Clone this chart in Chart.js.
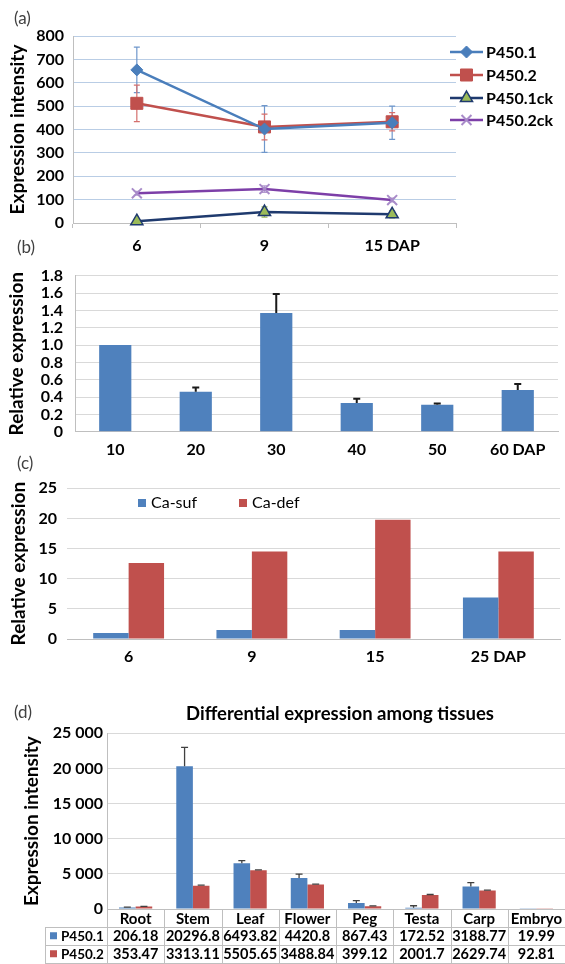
<!DOCTYPE html>
<html><head><meta charset="utf-8">
<script src="https://cdn.jsdelivr.net/npm/chart.js"></script>
<style>
html,body{margin:0;padding:0;background:#fff;}
body{width:565px;height:964px;position:relative;overflow:hidden;}
canvas{position:absolute;left:0;}
.lbl{position:absolute;font:17px Lato, sans-serif;line-height:20px;color:#404040;z-index:5;}
</style></head><body>
<canvas id="ca" width="565" height="254" style="top:0"></canvas>
<canvas id="cb" width="565" height="208" style="top:254px"></canvas>
<canvas id="cc" width="565" height="210" style="top:462px"></canvas>
<canvas id="cd" width="565" height="292" style="top:672px"></canvas>
<div class="lbl" style="left:14px;top:8px">(a)</div>
<div class="lbl" style="left:17px;top:237px">(b)</div>
<div class="lbl" style="left:17px;top:453px">(c)</div>
<div class="lbl" style="left:14px;top:702px">(d)</div>
<script>
// ---------- Panel (a) data ----------
const aCategories = ['6', '9', '15 DAP'];
const aSeriesNames = ['P450.1', 'P450.2', 'P450.1ck', 'P450.2ck'];
const aP4501 = [655, 402, 429];
const aP4501Err = [97, 100, 71];
const aP4502 = [512, 411, 433];
const aP4502Err = [78, 55, 39];
const aP4501ck = [8, 47, 37];
const aP4501ckErr = [0, 22, 15];
const aP4502ck = [127, 145, 98];
const aP4502ckErr = [8, 14, 8];
const aYTicks = [0, 100, 200, 300, 400, 500, 600, 700, 800];
const aYTitle = 'Expression intensity';

// ---------- Panel (b) data ----------
const bCategories = ['10', '20', '30', '40', '50', '60 DAP'];
const bValues = [1.0, 0.46, 1.37, 0.33, 0.31, 0.48];
const bErr = [0, 0.05, 0.22, 0.05, 0.015, 0.07];
const bYTicks = [0, 0.2, 0.4, 0.6, 0.8, 1.0, 1.2, 1.4, 1.6, 1.8];
const bYTickLabels = ['0', '0.2', '0.4', '0.6', '0.8', '1.0', '1.2', '1.4', '1.6', '1.8'];
const bYTitle = 'Relative expression';

// ---------- Panel (c) data ----------
const cCategories = ['6', '9', '15', '25 DAP'];
const cSeriesNames = ['Ca-suf', 'Ca-def'];
const cCaSuf = [1.0, 1.5, 1.5, 6.9];
const cCaDef = [12.6, 14.5, 19.8, 14.5];
const cYTicks = [0, 5, 10, 15, 20, 25];
const cYTitle = 'Relative expression';

// ---------- Panel (d) data ----------
const dTitle = 'Differential expression among tissues';
const dCategories = ['Root', 'Stem', 'Leaf', 'Flower', 'Peg', 'Testa', 'Carp', 'Embryo'];
const dSeriesNames = ['P450.1', 'P450.2'];
const dP4501 = [206.18, 20296.8, 6493.82, 4420.8, 867.43, 172.52, 3188.77, 19.99];
const dP4502 = [353.47, 3313.11, 5505.65, 3488.84, 399.12, 2001.7, 2629.74, 92.81];
const dP4501Err = [60, 2700, 380, 540, 320, 290, 560, 0];
const dP4502Err = [30, 90, 50, 50, 50, 60, 60, 0];
const dYTicks = [0, 5000, 10000, 15000, 20000, 25000];
const dYTickLabels = ['0', '5 000', '10 000', '15 000', '20 000', '25 000'];
const dYTitle = 'Expression intensity';

// ---------- common ----------
const BLUE = '#4F81BD', RED = '#C0504D';
Chart.defaults.font.family = 'Lato, sans-serif';
Chart.defaults.color = '#000';
const tickFont = {size: 16, weight: 'bold'};
const titleFont = {size: 19, weight: 'bold'};

const errorBars = {
  id: 'errorBars',
  draw(chart) {
    const ctx = chart.ctx, y = chart.scales.y;
    chart.data.datasets.forEach((ds, di) => {
      if (!ds.errPlus) return;
      const meta = chart.getDatasetMeta(di);
      ctx.save();
      ctx.strokeStyle = ds.errColor || '#333';
      ctx.lineWidth = ds.errWidth || 1.2;
      meta.data.forEach((el, i) => {
        const v = ds.data[i];
        const p = ds.errPlus[i] || 0;
        const m = ds.errMinus ? (ds.errMinus[i] || 0) : 0;
        if (!p && !m) return;
        const x = el.x;
        const yv = y.getPixelForValue(v);
        const yt = y.getPixelForValue(v + p);
        const yb = y.getPixelForValue(v - m);
        const cap = ds.errCap || 3.5;
        ctx.beginPath();
        ctx.moveTo(x, yt); ctx.lineTo(x, m ? yb : yv);
        if (p) { ctx.moveTo(x - cap, yt); ctx.lineTo(x + cap, yt); }
        if (m) { ctx.moveTo(x - cap, yb); ctx.lineTo(x + cap, yb); }
        ctx.stroke();
      });
      ctx.restore();
    });
  },
  beforeDatasetsDraw(chart, args, opts) { if (opts.behind) this.draw(chart); },
  afterDatasetsDraw(chart, args, opts) { if (!opts.behind) this.draw(chart); }
};

function drawMarker(ctx, style, r, bw, x, y) {
  if (Chart.helpers && Chart.helpers.drawPoint) {
    Chart.helpers.drawPoint(ctx, {pointStyle: style, radius: r, rotation: 0, borderWidth: bw}, x, y);
  } else {
    ctx.beginPath(); ctx.arc(x, y, r, 0, Math.PI * 2); ctx.fill(); ctx.stroke();
  }
}

const lineLegend = {
  id: 'lineLegend',
  afterDraw(chart, args, opts) {
    const ctx = chart.ctx;
    ctx.save();
    chart.data.datasets.forEach((ds, i) => {
      const y = opts.ys[i];
      ctx.strokeStyle = ds.borderColor; ctx.lineWidth = ds.borderWidth;
      ctx.beginPath(); ctx.moveTo(opts.x0, y); ctx.lineTo(opts.x1, y); ctx.stroke();
      ctx.fillStyle = ds.pointBackgroundColor; ctx.strokeStyle = ds.pointBorderColor;
      ctx.lineWidth = ds.pointBorderWidth;
      drawMarker(ctx, ds.pointStyle, ds.pointRadius, ds.pointBorderWidth, (opts.x0 + opts.x1) / 2, y);
      ctx.fillStyle = '#000'; ctx.font = 'bold 16px Lato, sans-serif';
      ctx.textAlign = 'left'; ctx.textBaseline = 'middle';
      ctx.fillText(ds.label, opts.x1 + 3, y + 1);
    });
    ctx.restore();
  }
};

const boxLegend = {
  id: 'boxLegend',
  afterDraw(chart, args, opts) {
    const ctx = chart.ctx;
    ctx.save();
    chart.data.datasets.forEach((ds, i) => {
      const x = opts.xs[i];
      ctx.fillStyle = ds.backgroundColor;
      ctx.fillRect(x, opts.y - 4, 8, 8);
      ctx.fillStyle = '#000'; ctx.font = '16px Lato, sans-serif';
      ctx.textAlign = 'left'; ctx.textBaseline = 'middle';
      ctx.fillText(ds.label, x + 13, opts.y);
    });
    ctx.restore();
  }
};

const panelTitle = {
  id: 'panelTitle',
  afterDraw(chart, args, opts) {
    const ctx = chart.ctx, ca = chart.chartArea;
    ctx.save();
    ctx.fillStyle = '#000'; ctx.font = 'bold 18.5px Lato, sans-serif';
    ctx.textAlign = 'center'; ctx.textBaseline = 'middle';
    ctx.fillText(opts.text, (ca.left + ca.right) / 2 + 4, opts.y);
    ctx.restore();
  }
};

const dataTable = {
  id: 'dataTable',
  afterDraw(chart) {
    const ctx = chart.ctx, ca = chart.chartArea, x = chart.scales.x;
    const n = chart.data.labels.length;
    const step = x.getPixelForValue(1) - x.getPixelForValue(0);
    const top = ca.bottom, r1 = top + 18, r2 = top + 35.5, r3 = top + 54;
    const leftCol = 45;
    const px = v => Math.round(v) + 0.5;
    ctx.save();
    ctx.strokeStyle = '#BFBFBF'; ctx.lineWidth = 1;
    ctx.beginPath();
    [r1, r2, r3].forEach(r => { ctx.moveTo(leftCol, px(r)); ctx.lineTo(ca.right, px(r)); });
    ctx.moveTo(px(leftCol), px(r1)); ctx.lineTo(px(leftCol), r3);
    for (let i = 0; i <= n; i++) {
      const xx = px(x.getPixelForValue(0) - step / 2 + step * i);
      ctx.moveTo(xx, top); ctx.lineTo(xx, r3);
    }
    ctx.stroke();
    ctx.fillStyle = '#000';
    ctx.textAlign = 'center'; ctx.textBaseline = 'middle';
    chart.data.labels.forEach((lab, i) => {
      const cx = x.getPixelForValue(i);
      ctx.font = 'bold 15px Lato, sans-serif';
      ctx.fillText(lab, cx, (top + r1) / 2 + 1);
      ctx.font = 'bold 14.5px Lato, sans-serif';
      chart.data.datasets.forEach((ds, di) => {
        const ry = di === 0 ? (r1 + r2) / 2 : (r2 + r3) / 2;
        ctx.fillText(String(ds.data[i]), cx, ry + 1);
      });
    });
    ctx.font = 'bold 13.5px Lato, sans-serif';
    chart.data.datasets.forEach((ds, di) => {
      const ry = di === 0 ? (r1 + r2) / 2 : (r2 + r3) / 2;
      ctx.fillStyle = ds.backgroundColor;
      ctx.fillRect(50, ry - 3.5, 7, 7);
      ctx.fillStyle = '#000'; ctx.textAlign = 'left';
      ctx.fillText(ds.label, 61, ry + 1);
    });
    ctx.restore();
  }
};

function yTicksFrom(arr) { return s => { s.ticks = arr.map(v => ({value: v})); }; }
function labelFrom(vals, labels) { return v => { const i = vals.findIndex(t => Math.abs(t - v) < 1e-9); return i >= 0 ? labels[i] : ''; }; }

// ---------- Panel (a) ----------
new Chart(document.getElementById('ca'), {
  type: 'line',
  data: {
    labels: aCategories,
    datasets: [
      {label: aSeriesNames[0], data: aP4501, borderColor: '#4A7EBB', borderWidth: 2.5,
       pointStyle: 'rectRot', pointRadius: 6, pointBackgroundColor: '#4A7EBB', pointBorderColor: '#4A7EBB', pointBorderWidth: 1,
       errPlus: aP4501Err, errMinus: aP4501Err, errColor: '#6F97CB', errCap: 3, clip: false},
      {label: aSeriesNames[1], data: aP4502, borderColor: '#C0504D', borderWidth: 2.5,
       pointStyle: 'rect', pointRadius: 8.5, pointBackgroundColor: '#C0504D', pointBorderColor: '#C0504D', pointBorderWidth: 1,
       errPlus: aP4502Err, errMinus: aP4502Err, errColor: '#D5706D', errCap: 3, clip: false},
      {label: aSeriesNames[2], data: aP4501ck, borderColor: '#1F3A6E', borderWidth: 2.5,
       pointStyle: 'triangle', pointRadius: 7, pointBackgroundColor: '#9BBB59', pointBorderColor: '#1F3A6E', pointBorderWidth: 1.5,
       errPlus: aP4501ckErr, errMinus: aP4501ckErr, errColor: '#9BBB59', errCap: 3, clip: false},
      {label: aSeriesNames[3], data: aP4502ck, borderColor: '#7D3FA8', borderWidth: 2.5,
       pointStyle: 'crossRot', pointRadius: 7, pointBackgroundColor: '#A88BC9', pointBorderColor: '#A88BC9', pointBorderWidth: 2,
       errPlus: aP4502ckErr, errMinus: aP4502ckErr, errColor: '#B49AD0', errCap: 3, clip: false}
    ]
  },
  options: {
    responsive: false, animation: false,
    layout: {padding: {left: 0, right: 109, top: 36, bottom: 0}},
    plugins: {legend: {display: false}, tooltip: {enabled: false},
      errorBars: {behind: true},
      lineLegend: {x0: 450, x1: 483, ys: [52, 75, 98, 120]}},
    scales: {
      x: {offset: true,
          grid: {offset: true, drawOnChartArea: false, color: '#BFBFBF', tickLength: 5},
          border: {color: '#BFBFBF'},
          ticks: {font: tickFont, padding: 8, color: '#000', maxRotation: 0},
          afterFit: s => { s.height = 31; }},
      y: {min: 0, max: 800, afterBuildTicks: yTicksFrom(aYTicks),
          grid: {color: '#B9CDE5', drawTicks: false},
          border: {color: '#BFBFBF'},
          ticks: {font: tickFont, padding: 9, color: '#000', autoSkip: false},
          title: {display: true, text: aYTitle, font: titleFont, color: '#000', padding: {top: 6, bottom: 0}},
          afterFit: s => { s.width = 73; }}
    }
  },
  plugins: [errorBars, lineLegend]
});

// ---------- Panel (b) ----------
new Chart(document.getElementById('cb'), {
  type: 'bar',
  data: {
    labels: bCategories,
    datasets: [{label: 'b', data: bValues, backgroundColor: BLUE, barPercentage: 0.4, categoryPercentage: 1,
      errPlus: bErr, errColor: '#1A1A1A', errWidth: 2, errCap: 3.5}]
  },
  options: {
    responsive: false, animation: false,
    layout: {padding: {left: 0, right: 7, top: 21.7, bottom: 0}},
    plugins: {legend: {display: false}, tooltip: {enabled: false}},
    scales: {
      x: {grid: {display: false, drawTicks: false}, border: {color: '#BFBFBF'},
          ticks: {font: tickFont, padding: 8.5, color: '#000', maxRotation: 0},
          afterFit: s => { s.height = 30.3; }},
      y: {min: 0, max: 1.8, afterBuildTicks: yTicksFrom(bYTicks),
          grid: {color: '#D9D9D9', drawTicks: false},
          border: {color: '#BFBFBF'},
          ticks: {font: tickFont, padding: 12, color: '#000', autoSkip: false,
                  callback: labelFrom(bYTicks, bYTickLabels)},
          title: {display: true, text: bYTitle, font: titleFont, color: '#000', padding: {top: 5, bottom: 0}},
          afterFit: s => { s.width = 75; }}
    }
  },
  plugins: [errorBars]
});

// ---------- Panel (c) ----------
new Chart(document.getElementById('cc'), {
  type: 'bar',
  data: {
    labels: cCategories,
    datasets: [
      {label: cSeriesNames[0], data: cCaSuf, backgroundColor: BLUE, barPercentage: 1, categoryPercentage: 0.575},
      {label: cSeriesNames[1], data: cCaDef, backgroundColor: RED, barPercentage: 1, categoryPercentage: 0.575}
    ]
  },
  options: {
    responsive: false, animation: false,
    layout: {padding: {left: 0, right: 5, top: 26.3, bottom: 0}},
    plugins: {legend: {display: false}, tooltip: {enabled: false},
      boxLegend: {xs: [138, 239], y: 41}},
    scales: {
      x: {grid: {display: false, drawTicks: false}, border: {color: '#BFBFBF'},
          ticks: {font: tickFont, padding: 8.5, color: '#000', maxRotation: 0},
          afterFit: s => { s.height = 33; }},
      y: {min: 0, max: 25, afterBuildTicks: yTicksFrom(cYTicks),
          grid: {color: '#D9D9D9', drawTicks: false},
          border: {display: false},
          ticks: {font: tickFont, padding: 10, color: '#000', autoSkip: false},
          title: {display: true, text: cYTitle, font: titleFont, color: '#000', padding: {top: 7, bottom: 0}},
          afterFit: s => { s.width = 67; }}
    }
  },
  plugins: [boxLegend]
});

// ---------- Panel (d) ----------
new Chart(document.getElementById('cd'), {
  type: 'bar',
  data: {
    labels: dCategories,
    datasets: [
      {label: dSeriesNames[0], data: dP4501, backgroundColor: BLUE, barPercentage: 1, categoryPercentage: 0.58,
       errPlus: dP4501Err, errColor: '#404040', errWidth: 1.3, errCap: 3.5},
      {label: dSeriesNames[1], data: dP4502, backgroundColor: RED, barPercentage: 1, categoryPercentage: 0.58,
       errPlus: dP4502Err, errColor: '#404040', errWidth: 1.3, errCap: 3.5}
    ]
  },
  options: {
    responsive: false, animation: false,
    layout: {padding: {left: 0, right: 0, top: 61.3, bottom: 0}},
    plugins: {legend: {display: false}, tooltip: {enabled: false},
      panelTitle: {text: dTitle, y: 42}},
    scales: {
      x: {grid: {display: false, drawTicks: false}, border: {color: '#BFBFBF'},
          ticks: {display: false},
          afterFit: s => { s.height = 55; }},
      y: {min: 0, max: 25000, afterBuildTicks: yTicksFrom(dYTicks),
          grid: {color: '#D9D9D9', drawTicks: false},
          border: {color: '#BFBFBF'},
          ticks: {font: tickFont, padding: 4, color: '#000', autoSkip: false,
                  callback: labelFrom(dYTicks, dYTickLabels)},
          title: {display: true, text: dYTitle, font: titleFont, color: '#000', padding: {top: 20, bottom: 0}},
          afterFit: s => { s.width = 107; }}
    }
  },
  plugins: [errorBars, panelTitle, dataTable]
});
</script>
</body></html>
